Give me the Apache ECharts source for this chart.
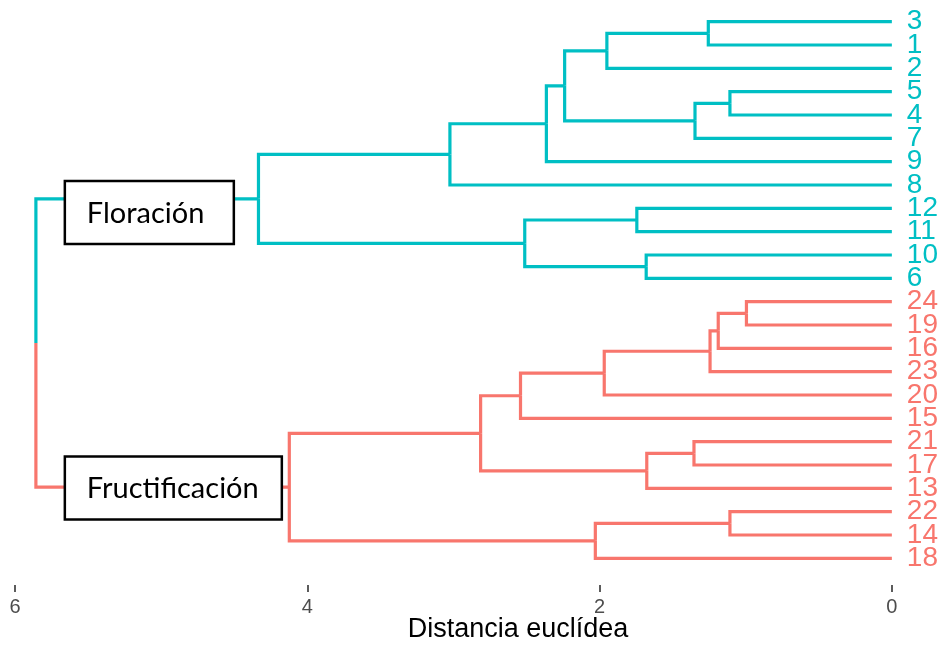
<!DOCTYPE html>
<html>
<head>
<meta charset="utf-8">
<script src="https://cdn.jsdelivr.net/npm/echarts@6/dist/echarts.min.js"></script>
<style>
  html, body { margin: 0; padding: 0; background: #fff; }
  #chart { width: 941px; height: 652px; }
</style>
</head>
<body>
<div id="chart"></div>
<script>
// Leaf order of the dendrogram, top to bottom
const leafLabels = ['3','1','2','5','4','7','9','8','12','11','10','6',
                    '24','19','16','23','20','15','21','17','13','22','14','18'];

// hclust-style merge table: negative = observation, positive = earlier merge (1-based)
const mergeLeft   = [-24, -5, -22,  1,  4, -3,  2, -21,  8, -10, -12,  6,  5,  3, 12, 15, 11, 13, 18, 16, 19, 20, 22];
const mergeRight  = [-19, -4, -14, -16, -23, -1, -7, -17, -13, -6, -11, -2, -20, -18, 7, -9, 10, -15, 9, -8, 14, 17, 21];
const mergeHeight = [0.995, 1.108, 1.108, 1.188, 1.244, 1.256, 1.347, 1.354, 1.677, 1.681, 1.745,
                     1.950, 1.968, 2.029, 2.239, 2.364, 2.512, 2.541, 2.814, 3.024, 4.123, 4.334, 5.857];

// Two clusters cut from the tree: label, root merge, colour
const clusterNames  = ['Floración', 'Fructificación'];
const clusterRoots  = [22, 21];
const clusterColors = ['#00BFC4', '#F8766D'];

const xTicks = [0, 2, 4, 6];
const axisTitle = 'Distancia euclídea';

// ---- tree layout -------------------------------------------------------
const nodes = [];           // merge nodes: {h, y, cluster}
function nodeOf(ref) {
  if (ref < 0) return { h: 0, y: leafLabels.indexOf(String(-ref)), leaf: -ref };
  return nodes[ref - 1];
}
mergeHeight.forEach((h, i) => {
  const a = nodeOf(mergeLeft[i]), b = nodeOf(mergeRight[i]);
  nodes.push({ h: h, y: (a.y + b.y) / 2, cluster: -1 });
});

// cluster membership of merges and leaves
const leafCluster = {};
function mark(ref, c) {
  if (ref < 0) { leafCluster[-ref] = c; return; }
  nodes[ref - 1].cluster = c;
  mark(mergeLeft[ref - 1], c);
  mark(mergeRight[ref - 1], c);
}
clusterRoots.forEach((r, c) => mark(r, c));
function clusterOf(ref) { return ref < 0 ? leafCluster[-ref] : nodes[ref - 1].cluster; }

// one elbow per child: [childH, childY, parentH, parentY, cluster]
const elbows = [];
mergeHeight.forEach((h, i) => {
  const parent = nodes[i];
  [mergeLeft[i], mergeRight[i]].forEach(ref => {
    const ch = nodeOf(ref);
    elbows.push([ch.h, ch.y, parent.h, parent.y, clusterOf(ref)]);
  });
});

// ---- chart -------------------------------------------------------------
const chart = echarts.init(document.getElementById('chart'), null, { renderer: 'canvas' });

const rich = {};
clusterColors.forEach((col, c) => {
  rich['c' + c] = { color: col, fontSize: 28, fontFamily: 'Liberation Sans, Arial, sans-serif' };
});

const boxFont = 'Lato, "Open Sans", sans-serif';
// cluster label boxes: [distance, leaf position, cluster, box width]
const boxAnchors = [[5.659, 8.18, 0, 169], [5.659, 19.99, 1, 217]];

chart.setOption({
  animation: false,
  backgroundColor: '#fff',
  grid: { left: 15, right: 47, top: 10, height: 560 },
  xAxis: {
    type: 'value',
    inverse: true,
    min: 0, max: 6, interval: 2,
    offset: 15,
    axisLine: { show: false, onZero: false },
    axisTick: { show: true, length: 7, lineStyle: { color: '#333', width: 1.6 } },
    splitLine: { show: false },
    axisLabel: {
      margin: 12, fontSize: 20, color: '#4d4d4d',
      fontFamily: 'Liberation Sans, Arial, sans-serif',
      customValues: xTicks
    }
  },
  yAxis: [
    {
      type: 'value', inverse: true, min: -0.5, max: leafLabels.length - 0.5,
      show: false
    },
    {
      type: 'category', inverse: true, position: 'right',
      data: leafLabels,
      axisLine: { show: false }, axisTick: { show: false }, splitLine: { show: false },
      axisLabel: {
        margin: 15,
        interval: 0,
        formatter: v => '{c' + leafCluster[+v] + '|' + v + '}',
        rich: rich
      }
    }
  ],
  graphic: [{
    type: 'text', x: 518, y: 630,
    style: {
      text: axisTitle, fontSize: 27, fill: '#000',
      fontFamily: 'Liberation Sans, Arial, sans-serif',
      align: 'center', verticalAlign: 'middle'
    }
  }],
  series: [
    {
      type: 'custom',
      coordinateSystem: 'cartesian2d',
      yAxisIndex: 0,
      clip: false,
      data: elbows,
      encode: { x: [0, 2], y: [1, 3] },
      renderItem: (params, api) => {
        const p1 = api.coord([api.value(0), api.value(1)]);
        const p2 = api.coord([api.value(2), api.value(1)]);
        const p3 = api.coord([api.value(2), api.value(3)]);
        return {
          type: 'polyline',
          shape: { points: [p1, p2, p3] },
          style: { stroke: clusterColors[api.value(4)], lineWidth: 3.2, fill: null, lineJoin: 'miter', lineCap: 'butt' }
        };
      },
      z: 2
    },
    {
      type: 'custom',
      coordinateSystem: 'cartesian2d',
      yAxisIndex: 0,
      clip: false,
      data: boxAnchors,
      renderItem: (params, api) => {
        const p = api.coord([api.value(0), api.value(1)]);
        const c = api.value(2), w = api.value(3), h = 63;
        return {
          type: 'group',
          children: [
            {
              type: 'rect',
              shape: { x: p[0], y: p[1] - h / 2, width: w, height: h },
              style: { fill: '#fff', stroke: '#000', lineWidth: 2.5 }
            },
            {
              type: 'text',
              x: p[0] + 22, y: p[1] + 1,
              style: {
                text: clusterNames[c], fill: '#000', fontSize: 29,
                fontFamily: boxFont, align: 'left', verticalAlign: 'middle'
              }
            }
          ]
        };
      },
      z: 5
    }
  ]
});
</script>
</body>
</html>
